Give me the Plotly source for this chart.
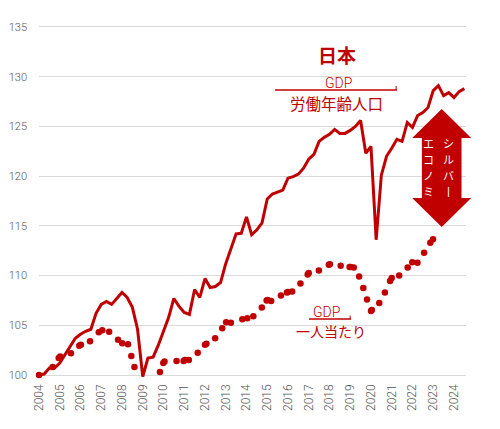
import plotly.graph_objects as go

# GDP / working-age population, quarterly index (2004Q1 = 100)
gdp_per_working_age = [
    100.0, 100.1, 100.7, 100.7, 101.2, 102.0, 102.9, 103.7,
    104.1, 104.4, 104.6, 106.2, 107.1, 107.4, 107.1, 107.7,
    108.3, 107.8, 106.8, 104.6, 99.85, 101.7, 101.8, 103.0,
    104.3, 105.8, 107.7, 106.9, 106.3, 106.1, 108.6, 107.8,
    109.7, 108.8, 108.9, 109.3, 111.2, 112.8, 114.2, 114.25,
    115.9, 114.1, 114.6, 115.3, 117.7, 118.2, 118.4, 118.6,
    119.8, 119.95, 120.2, 120.8, 121.7, 122.2, 123.5, 123.9,
    124.2, 124.7, 124.3, 124.3, 124.6, 125.0, 125.6, 122.3,
    123.0, 113.6, 120.1, 122.0, 122.8, 123.7, 123.5, 125.4,
    124.9, 126.1, 126.4, 126.9, 128.6, 129.1, 128.1, 128.4,
    127.9, 128.5, 128.8,
]
line_x = [2004 + i / 4 for i in range(len(gdp_per_working_age))]

# GDP per capita (dots)
dot_x = [
    2004.0, 2004.66, 2004.95, 2005.02, 2005.54, 2005.94, 2006.02, 2006.46,
    2006.88, 2007.05, 2007.38, 2007.81, 2008.01, 2008.29, 2008.45, 2008.6,
    2009.83, 2009.99, 2010.05, 2010.63, 2010.97, 2011.03, 2011.22, 2011.65,
    2012.0, 2012.07, 2012.49, 2012.83, 2013.02, 2013.25, 2013.8, 2014.04,
    2014.33, 2014.74, 2014.97, 2015.02, 2015.19, 2015.66, 2015.95, 2016.0,
    2016.2, 2016.6, 2016.95, 2017.0, 2017.49, 2017.97, 2018.02, 2018.54,
    2018.97, 2019.02, 2019.17, 2019.43, 2019.63, 2019.81, 2020.0, 2020.04,
    2020.4, 2020.67, 2020.92, 2021.0, 2021.36, 2021.77, 2021.99, 2022.24,
    2022.56, 2022.86, 2022.99,
]
dot_y = [
    100.0, 100.8, 101.7, 101.85, 102.2, 102.95, 103.05, 103.4,
    104.3, 104.5, 104.35, 103.55, 103.2, 103.1, 101.9, 100.8,
    100.3, 101.2, 101.35, 101.4, 101.4, 101.5, 101.5, 102.25,
    103.05, 103.15, 103.7, 104.7, 105.3, 105.25, 105.6, 105.7,
    105.9, 106.8, 107.5, 107.55, 107.45, 108.0, 108.3, 108.35,
    108.4, 109.2, 110.1, 110.25, 110.5, 111.1, 111.15, 111.0,
    110.85, 110.85, 110.8, 109.9, 108.75, 107.6, 106.45, 106.55,
    107.25, 108.3, 109.45, 109.75, 110.0, 110.8, 111.35, 111.3,
    112.3, 113.3, 113.65,
]

year_ticks = list(range(2004, 2025))
y_ticks = [100, 105, 110, 115, 120, 125, 130, 135]

arrow_right = ["シ", "ル", "バ", "丨"]
arrow_left = ["エ", "コ", "ノ", "ミ"]

RED = "#C00000"
JP = "Noto Sans CJK JP"

# the page body adds an 8px offset, so the figure is 8px smaller than the window
W, H = 492, 421
PL, PR, PT, PB = 39, 466, 25, 377  # plot area in window pixels


def pp(x, y):
    # window pixel -> paper coordinates
    return (x - PL) / (PR - PL), (PB - y) / (PB - PT)


fig = go.Figure()
fig.add_trace(go.Scatter(
    x=line_x, y=gdp_per_working_age, mode="lines",
    line=dict(color=RED, width=3), hoverinfo="skip",
))
fig.add_trace(go.Scatter(
    x=dot_x, y=dot_y, mode="markers", cliponaxis=False,
    marker=dict(color=RED, size=6.5, line=dict(width=0)), hoverinfo="skip",
))

# double arrow (silver economy)
cx, top, hb1, hb2, bot = 441.7, 109, 138, 198, 227
hw, sw = 29.5, 19.8
pts = [(cx, top), (cx + hw, hb1), (cx + sw, hb1), (cx + sw, hb2), (cx + hw, hb2),
       (cx, bot), (cx - hw, hb2), (cx - sw, hb2), (cx - sw, hb1), (cx - hw, hb1)]
path = "M " + " L ".join(f"{pp(a, b)[0]:.4f},{pp(a, b)[1]:.4f}" for a, b in pts) + " Z"
shapes = [dict(type="path", xref="paper", yref="paper", path=path,
               fillcolor=RED, line=dict(width=0))]

# fraction bars
for x0, x1, yb, tick in [(275, 397, 90, 4), (309, 351, 319, 3.5)]:
    a0, b0 = pp(x0, yb)
    a1, _ = pp(x1, yb)
    shapes.append(dict(type="line", xref="paper", yref="paper", x0=a0, x1=a1, y0=b0, y1=b0,
                       line=dict(color=RED, width=1.3)))
    _, bt = pp(x1, yb - tick)
    shapes.append(dict(type="line", xref="paper", yref="paper", x0=a1 - 0.002, x1=a1 - 0.002,
                       y0=b0, y1=bt, line=dict(color=RED, width=1)))

annotations = []


def label(text, x, y, size, color=RED, weight="normal", family=JP):
    ax, ay = pp(x, y)
    annotations.append(dict(text=text, x=ax, y=ay, xref="paper", yref="paper",
                            xanchor="center", yanchor="middle", showarrow=False,
                            font=dict(family=family, size=size, color=color, weight=weight)))


label("日本", 336.5, 55, 19, weight="bold")
label("GDP", 338, 82.5, 14, weight=300, family="Roboto")
label("労働年齢人口", 336, 103, 15.5)
label("GDP", 326, 311.5, 14, weight=300, family="Roboto")
label("一人当たり", 331, 331, 14)
for i, ch in enumerate(arrow_right):
    label(ch, 448.3, 142.5 + 16.2 * i, 11, color="white")
for i, ch in enumerate(arrow_left):
    label(ch, 428.3, 142.5 + 16.2 * i, 11, color="white")

fig.update_layout(
    width=W, height=H,
    margin=dict(l=PL - 8, r=W - (PR - 8), t=PT - 8, b=H - (PB - 8), pad=0),
    plot_bgcolor="white", paper_bgcolor="white",
    showlegend=False,
    shapes=shapes,
    annotations=annotations,
    xaxis=dict(
        range=[2004, 2024.58], tickvals=year_ticks, ticktext=[str(y) for y in year_ticks],
        tickangle=-90, showgrid=False, zeroline=False, showline=False,
        ticks="", ticklabelstandoff=4, automargin=False,
        tickfont=dict(family="Roboto", size=12, color="#555555", weight=300),
    ),
    yaxis=dict(
        range=[99.8, 135.2], tickvals=y_ticks, showgrid=True, gridcolor="#d9d9d9",
        gridwidth=1, zeroline=False, showline=False, ticks="", ticklabelstandoff=11,
        automargin=False,
        tickfont=dict(family="Roboto", size=11, color="#555555", weight=300),
    ),
)

fig.write_html("out.html")
